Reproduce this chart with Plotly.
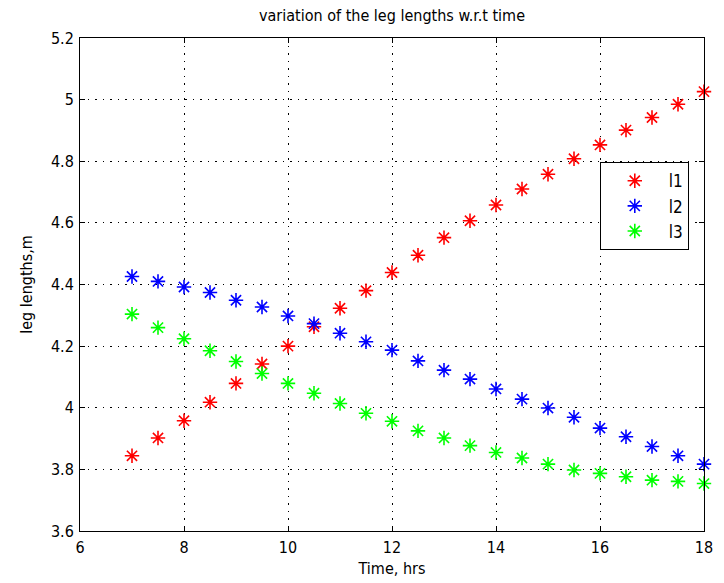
import plotly.graph_objects as go

time_hrs = [7, 7.5, 8, 8.5, 9, 9.5, 10, 10.5, 11, 11.5, 12, 12.5, 13, 13.5, 14,
            14.5, 15, 15.5, 16, 16.5, 17, 17.5, 18]

l1 = [3.844, 3.902, 3.958, 4.018, 4.079, 4.142, 4.200, 4.263, 4.323, 4.380,
      4.439, 4.495, 4.552, 4.607, 4.658, 4.710, 4.758, 4.808, 4.853, 4.901,
      4.942, 4.985, 5.026]
l2 = [4.426, 4.410, 4.392, 4.374, 4.349, 4.327, 4.298, 4.273, 4.242, 4.214,
      4.187, 4.152, 4.122, 4.093, 4.061, 4.028, 3.999, 3.969, 3.934, 3.906,
      3.874, 3.844, 3.817]
l3 = [4.304, 4.260, 4.224, 4.185, 4.150, 4.111, 4.079, 4.047, 4.014, 3.982,
      3.956, 3.925, 3.902, 3.877, 3.855, 3.837, 3.817, 3.798, 3.787, 3.776,
      3.765, 3.761, 3.754]

series_names = ["l1", "l2", "l3"]
series_colors = ["#ff0000", "#0000ff", "#00ff00"]

x_ticks = [6, 8, 10, 12, 14, 16, 18]
y_ticks = [3.6, 3.8, 4.0, 4.2, 4.4, 4.6, 4.8, 5.0, 5.2]
y_tick_text = ["3.6", "3.8", "4", "4.2", "4.4", "4.6", "4.8", "5", "5.2"]

FONT = "DejaVu Sans Condensed, Liberation Sans Narrow, Arial Narrow, Liberation Sans, sans-serif"

fig = go.Figure()
for name, vals, col in zip(series_names, [l1, l2, l3], series_colors):
    fig.add_trace(go.Scatter(
        x=time_hrs, y=vals, mode="markers", name=name,
        marker=dict(symbol="asterisk-open", size=12, color=col,
                    line=dict(color=col, width=1.6)),
        cliponaxis=False,
    ))

axis_common = dict(
    showline=True, linecolor="black", linewidth=1, mirror="ticks",
    ticks="inside", ticklen=5, tickcolor="black", automargin=False,
    showgrid=True, gridcolor="black", griddash="1.5px,6px", gridwidth=1,
    zeroline=False, tickfont=dict(family=FONT, size=16, color="black"),
)

fig.update_layout(
    width=724, height=583,
    margin=dict(l=80, r=20, t=38, b=52),
    paper_bgcolor="white", plot_bgcolor="white",
    title=dict(text="variation of the leg lengths w.r.t time",
               x=0.5, xref="paper", xanchor="center", y=0.974, yanchor="middle",
               font=dict(family=FONT, size=16, color="black")),
    xaxis=dict(range=[6, 18], tickvals=x_ticks, ticklabelstandoff=2,
               title=dict(text="Time, hrs", standoff=6,
                          font=dict(family=FONT, size=16, color="black")),
               **axis_common),
    yaxis=dict(range=[3.6, 5.2], tickvals=y_ticks, ticktext=y_tick_text,
               ticklabelstandoff=2,
               title=dict(text="leg lengths,m", standoff=14,
                          font=dict(family=FONT, size=16, color="black")),
               **axis_common),
    legend=dict(x=0.833, y=0.748, xanchor="left", yanchor="top",
                bgcolor="white", bordercolor="black", borderwidth=1,
                font=dict(family=FONT, size=17, color="black"),
                itemwidth=58),
    showlegend=True,
)

fig.write_html("out.html",
               config={"displayModeBar": False},
               post_script="document.body.style.margin='0px';document.body.style.overflow='hidden';")
